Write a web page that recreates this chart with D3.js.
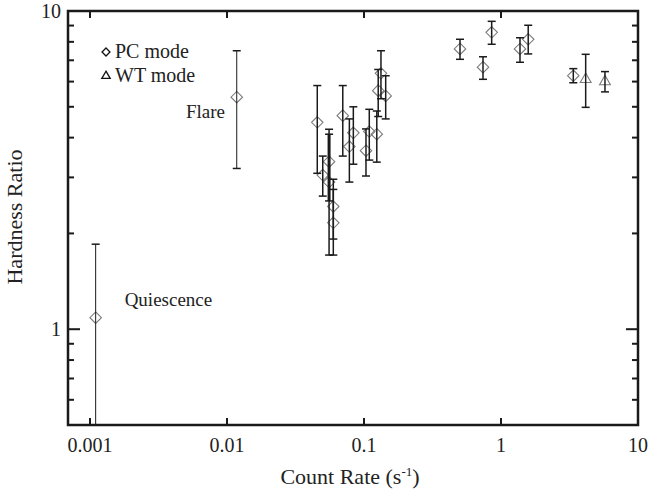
<!DOCTYPE html>
<html lang="en">
<head>
<meta charset="UTF-8">
<title>Hardness Ratio vs Count Rate</title>
<script src="https://d3js.org/d3.v7.min.js"></script>
<style>
    body { margin: 0; background: #fff; }
    svg text { font-family: "Liberation Serif", "DejaVu Serif", serif; fill: #222; }
</style>
</head>
<body>
<div id="chart"></div>
<script>
    // PC mode points: count rate, hardness ratio, lower and upper error
    const pcRate = [0.0011, 0.01178, 0.0456, 0.070, 0.0782, 0.0836, 0.1034, 0.1093, 0.124, 0.133, 0.127, 0.144,
                    0.0556, 0.0556, 0.050, 0.0597, 0.0597, 0.502, 0.739, 0.855, 1.376, 1.58, 3.37];
    const pcHR   = [1.087, 5.36, 4.47, 4.69, 3.75, 4.14, 3.64, 4.18, 4.10, 6.37, 5.62, 5.41,
                    3.36, 2.90, 3.05, 2.43, 2.16, 7.60, 6.66, 8.57, 7.60, 8.15, 6.26];
    const pcLo   = [0.3, 3.20, 3.09, 3.50, 2.90, 3.30, 3.03, 3.40, 3.35, 5.30, 4.66, 4.58,
                    1.71, 2.53, 2.62, 1.92, 1.71, 7.05, 6.10, 7.86, 6.90, 7.33, 5.95];
    const pcHi   = [1.85, 7.50, 5.83, 5.83, 4.58, 5.00, 4.26, 4.91, 4.85, 7.50, 6.55, 6.26,
                    4.25, 4.10, 3.50, 2.96, 2.75, 8.15, 7.18, 9.28, 8.24, 9.02, 6.59];

    // WT mode points
    const wtRate = [4.15, 5.74];
    const wtHR   = [6.10, 6.00];
    const wtLo   = [4.98, 5.57];
    const wtHi   = [7.31, 6.45];

    const xTicks = [0.001, 0.01, 0.1, 1, 10];
    const yMajor = [1, 10];
    const yMinor = [0.5, 0.6, 0.7, 0.8, 0.9, 2, 3, 4, 5, 6, 7, 8, 9];

    const margin = { top: 11, right: 11, bottom: 66, left: 68 };
    const W = 649, H = 491;
    const width = W - margin.left - margin.right;
    const height = H - margin.top - margin.bottom;

    const svg = d3.select("#chart").append("svg")
        .attr("width", W).attr("height", H);
    const g = svg.append("g").attr("transform", `translate(${margin.left},${margin.top})`);

    const x = d3.scaleLog().domain([0.000691, 10]).range([0, width]);
    const y = d3.scaleLog().domain([0.5, 10]).range([height, 0]);

    const pc = pcRate.map((r, i) => ({ x: r, y: pcHR[i], lo: pcLo[i], hi: pcHi[i], i }));
    const wt = wtRate.map((r, i) => ({ x: r, y: wtHR[i], lo: wtLo[i], hi: wtHi[i] }));

    g.append("clipPath").attr("id", "clip")
        .append("rect").attr("width", width).attr("height", height);
    const plot = g.append("g").attr("clip-path", "url(#clip)");

    // markers
    const diamond = d3.symbol().type(d3.symbolDiamond2).size(84);
    plot.selectAll(".pc").data(pc).join("path")
        .attr("transform", d => `translate(${x(d.x)},${y(d.y)})`)
        .attr("d", diamond)
        .attr("fill", "none").attr("stroke", "#7a7a7a").attr("stroke-width", 1.1);

    const tri = d3.symbol().type(d3.symbolTriangle2).size(84);
    plot.selectAll(".wt").data(wt).join("path")
        .attr("transform", d => `translate(${x(d.x)},${y(d.y)})`)
        .attr("d", tri)
        .attr("fill", "none").attr("stroke", "#7a7a7a").attr("stroke-width", 1.1);

    // error bars
    function errBars(data, thinIdx, thickIdx) {
        const eg = plot.selectAll(null).data(data).join("g")
            .attr("stroke", "#1a1a1a")
            .attr("stroke-width", d => thickIdx.includes(d.i) ? 3 : thinIdx.includes(d.i) ? 1 : 1.5);
        eg.append("line")
            .attr("x1", d => x(d.x)).attr("x2", d => x(d.x))
            .attr("y1", d => y(d.lo)).attr("y2", d => y(d.hi));
        eg.append("line")
            .attr("x1", d => x(d.x) - 4).attr("x2", d => x(d.x) + 4)
            .attr("y1", d => y(d.hi)).attr("y2", d => y(d.hi))
            .attr("stroke-width", 1.5);
        eg.append("line")
            .attr("x1", d => x(d.x) - 4).attr("x2", d => x(d.x) + 4)
            .attr("y1", d => y(d.lo)).attr("y2", d => y(d.lo))
            .attr("stroke-width", 1.5);
    }
    errBars(pc, [0, 1], [13]);
    errBars(wt, [], []);

    // ticks on all four sides, pointing in
    const tk = g.append("g").attr("stroke", "#1a1a1a").attr("stroke-width", 2);
    xTicks.forEach(t => {
        tk.append("line").attr("x1", x(t)).attr("x2", x(t)).attr("y1", height).attr("y2", height - 7);
        tk.append("line").attr("x1", x(t)).attr("x2", x(t)).attr("y1", 0).attr("y2", 7);
    });
    yMajor.forEach(t => {
        tk.append("line").attr("x1", 0).attr("x2", 12).attr("y1", y(t)).attr("y2", y(t));
        tk.append("line").attr("x1", width).attr("x2", width - 12).attr("y1", y(t)).attr("y2", y(t));
    });
    yMinor.forEach(t => {
        tk.append("line").attr("x1", 0).attr("x2", 6).attr("y1", y(t)).attr("y2", y(t));
        tk.append("line").attr("x1", width).attr("x2", width - 6).attr("y1", y(t)).attr("y2", y(t));
    });

    g.append("rect").attr("width", width).attr("height", height)
        .attr("fill", "none").attr("stroke", "#1a1a1a").attr("stroke-width", 2.5);

    // tick labels
    g.selectAll(".xl").data(xTicks).join("text")
        .attr("x", d => x(d)).attr("y", height + 27)
        .attr("text-anchor", "middle").style("font-size", "20px")
        .text(d => d3.format("~g")(d));
    g.selectAll(".yl").data(yMajor).join("text")
        .attr("x", -7).attr("y", d => y(d) + 7)
        .attr("text-anchor", "end").style("font-size", "20px")
        .text(d => d);

    // axis titles
    const xt = g.append("text").attr("x", width / 2 - 3).attr("y", height + 59)
        .attr("text-anchor", "middle").style("font-size", "22px");
    xt.append("tspan").text("Count Rate (s");
    xt.append("tspan").attr("dy", -8).style("font-size", "13px").text("-1");
    xt.append("tspan").attr("dy", 8).text(")");

    g.append("text")
        .attr("transform", `translate(${-46},${height / 2 - 1}) rotate(-90)`)
        .attr("text-anchor", "middle").style("font-size", "22px")
        .text("Hardness Ratio");

    // legend
    const lg = g.append("g").attr("transform", "translate(38,41)");
    lg.append("path").attr("d", d3.symbol().type(d3.symbolDiamond2).size(40))
        .attr("fill", "none").attr("stroke", "#111").attr("stroke-width", 1.3);
    lg.append("text").attr("x", 9).attr("y", 6).style("font-size", "20px").text("PC mode");
    lg.append("path").attr("transform", "translate(0,24)")
        .attr("d", d3.symbol().type(d3.symbolTriangle2).size(50))
        .attr("fill", "none").attr("stroke", "#111").attr("stroke-width", 1.3);
    lg.append("text").attr("x", 9).attr("y", 30).style("font-size", "20px").text("WT mode");

    // annotations
    g.append("text").attr("x", x(0.00502)).attr("y", y(4.6))
        .style("font-size", "19px").text("Flare");
    g.append("text").attr("x", x(0.00179)).attr("y", y(1.18))
        .style("font-size", "19px").text("Quiescence");
</script>
</body>
</html>
